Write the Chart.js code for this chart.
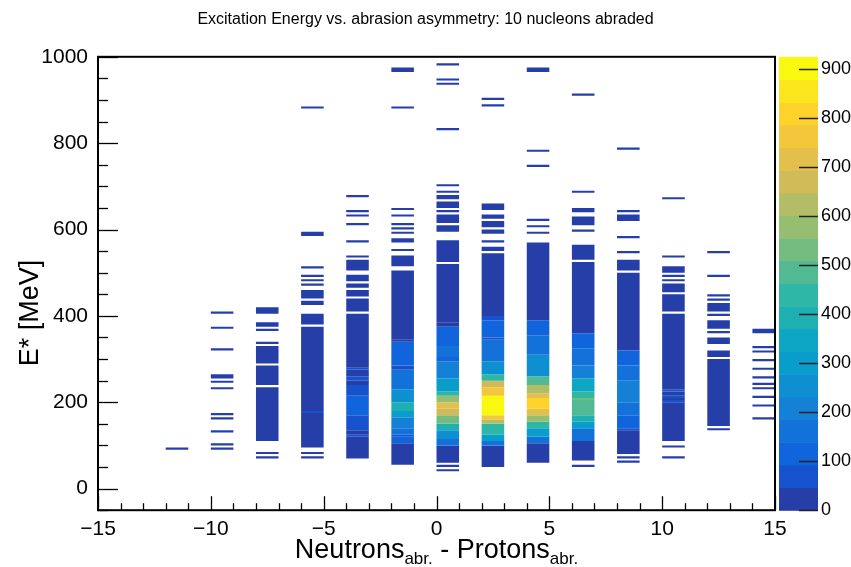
<!DOCTYPE html>
<html>
<head>
<meta charset="utf-8">
<script src="https://cdn.jsdelivr.net/npm/chart.js@4.4.1/dist/chart.umd.min.js"></script>
<style>
  body { margin: 0; background: #fff; }
</style>
</head>
<body>
<canvas id="chart" width="851" height="567"></canvas>
<script>
// x bin centres: neutrons abraded - protons abraded
const asymmetry = [-11.5, -9.5, -7.5, -5.5, -3.5, -1.5, 0.5, 2.5, 4.5, 6.5, 8.5, 10.5, 12.5, 14.5];

// filled E* bins per column: [E low, E high, counts]
const colM11 = [[90, 95, 1]];
const colM9 = [[90, 95, 1], [100, 105, 2], [130, 135, 1], [160, 165, 1], [170, 175, 1], [230, 235, 1],
  [245, 250, 1], [255, 265, 2], [320, 325, 1], [370, 375, 1], [405, 410, 1]];
const colM7 = [[70, 75, 1], [80, 85, 2], [110, 235, 8], [240, 285, 6], [290, 330, 5], [335, 340, 1],
  [365, 370, 2], [375, 385, 3], [405, 420, 3]];
const colM5 = [[70, 75, 1], [80, 85, 1], [95, 175, 20], [175, 180, 55], [180, 375, 20], [380, 405, 10],
  [425, 435, 4], [440, 460, 5], [470, 475, 2], [480, 485, 1], [490, 495, 1], [510, 515, 1], [585, 595, 3],
  [880, 885, 1]];
const colM3 = [[70, 120, 25], [120, 125, 60], [125, 135, 25], [135, 145, 60], [145, 170, 70], [170, 215, 100],
  [215, 240, 70], [240, 250, 30], [250, 260, 60], [260, 275, 30], [275, 280, 60], [280, 405, 25], [410, 440, 12],
  [445, 460, 6], [465, 475, 4], [480, 495, 4], [505, 530, 3], [535, 540, 1], [570, 575, 1], [610, 615, 1],
  [630, 635, 1], [640, 645, 2], [675, 680, 1]];
const colM1 = [[55, 105, 25], [105, 120, 110], [120, 125, 60], [125, 140, 150], [140, 165, 200], [165, 180, 300],
  [180, 200, 370], [200, 230, 260], [230, 275, 160], [275, 285, 70], [285, 340, 110], [340, 345, 40],
  [345, 505, 25], [515, 540, 6], [550, 555, 1], [570, 580, 3], [590, 595, 1], [600, 605, 1], [610, 615, 1],
  [630, 635, 1], [645, 650, 1], [880, 885, 1], [965, 975, 2]];
const colP0 = [[40, 45, 1], [50, 55, 1], [60, 100, 30], [100, 115, 150], [115, 135, 250], [135, 150, 380],
  [150, 170, 520], [170, 185, 660], [185, 200, 700], [200, 215, 570], [215, 225, 430], [225, 255, 290],
  [255, 295, 200], [295, 305, 110], [305, 330, 150], [330, 375, 110], [375, 385, 40], [385, 520, 30],
  [525, 575, 12], [595, 610, 5], [615, 635, 6], [640, 645, 1], [650, 665, 4], [670, 680, 3], [685, 690, 1],
  [700, 705, 1], [830, 835, 1], [935, 940, 1], [945, 950, 1], [980, 985, 1]];
const colP2 = [[50, 100, 30], [100, 110, 150], [110, 125, 290], [125, 150, 430], [150, 160, 620], [160, 170, 760],
  [170, 215, 910], [215, 235, 760], [235, 250, 660], [250, 265, 430], [265, 295, 250], [295, 345, 160],
  [345, 350, 60], [350, 390, 110], [390, 400, 60], [400, 545, 30], [550, 560, 8], [570, 575, 2], [590, 600, 5],
  [605, 620, 6], [625, 635, 4], [645, 660, 5], [885, 890, 1], [900, 905, 1]];
const colP4 = [[60, 105, 30], [105, 120, 150], [120, 140, 290], [140, 155, 430], [155, 170, 570], [170, 185, 710],
  [185, 210, 800], [210, 220, 710], [220, 240, 620], [240, 260, 480], [260, 310, 240], [310, 355, 160],
  [355, 390, 110], [390, 570, 30], [590, 595, 1], [605, 610, 1], [620, 625, 1], [745, 750, 1], [780, 785, 1],
  [965, 975, 3]];
const colP6 = [[50, 55, 1], [65, 110, 30], [110, 140, 150], [140, 155, 290], [155, 170, 380], [170, 205, 480],
  [205, 210, 530], [210, 225, 430], [225, 255, 330], [255, 285, 220], [285, 325, 150], [325, 360, 110],
  [360, 525, 30], [530, 565, 10], [595, 600, 1], [610, 630, 5], [640, 650, 3], [685, 690, 1], [910, 915, 1]];
const colP8 = [[60, 65, 1], [70, 75, 1], [80, 135, 30], [135, 140, 60], [140, 170, 110], [170, 200, 150],
  [200, 250, 190], [250, 285, 150], [285, 320, 110], [320, 500, 30], [505, 530, 8], [545, 550, 1],
  [580, 585, 1], [620, 635, 4], [640, 645, 1], [785, 790, 1]];
const colP10 = [[70, 75, 1], [95, 100, 1], [110, 200, 25], [200, 205, 60], [205, 210, 25], [210, 215, 60],
  [215, 225, 25], [225, 230, 60], [230, 405, 25], [410, 450, 12], [455, 475, 8], [480, 485, 1], [490, 495, 1],
  [500, 515, 4], [535, 540, 1], [670, 675, 1]];
const colP12 = [[135, 140, 1], [145, 300, 15], [305, 320, 5], [335, 350, 4], [360, 365, 1], [370, 390, 5],
  [400, 405, 1], [410, 430, 4], [435, 440, 1], [445, 450, 1], [490, 495, 1], [545, 550, 1]];
const colP14 = [[160, 165, 1], [190, 195, 1], [210, 215, 1], [230, 235, 1], [240, 245, 1], [255, 260, 1],
  [275, 280, 1], [295, 300, 1], [315, 320, 1], [325, 330, 1], [360, 370, 2]];

const columns = [colM11, colM9, colM7, colM5, colM3, colM1, colP0, colP2, colP4, colP6, colP8, colP10, colP12, colP14];

const xTicksMajor = 5;
const yTicksMajor = 200;
const zMax = 925;
const nBands = 20;

// ROOT kBird palette
const birdStops = [0.0, 0.125, 0.25, 0.375, 0.5, 0.625, 0.75, 0.875, 1.0];
const birdR = [0.2082, 0.0592, 0.0780, 0.0232, 0.1802, 0.5301, 0.8186, 0.9956, 0.9764];
const birdG = [0.1664, 0.3599, 0.5041, 0.6419, 0.7178, 0.7492, 0.7328, 0.7862, 0.9832];
const birdB = [0.5293, 0.8684, 0.8385, 0.7914, 0.6425, 0.4662, 0.3499, 0.1968, 0.0539];

function paletteColor(idx) {
  for (let g = 1; g < birdStops.length; g++) {
    const a = Math.floor(255 * birdStops[g - 1]), b = Math.floor(255 * birdStops[g]);
    if (idx < b || g === birdStops.length - 1) {
      const t = (idx - a) / (b - a);
      const r = birdR[g - 1] + t * (birdR[g] - birdR[g - 1]);
      const gg = birdG[g - 1] + t * (birdG[g] - birdG[g - 1]);
      const bb = birdB[g - 1] + t * (birdB[g] - birdB[g - 1]);
      return 'rgb(' + Math.round(r * 255) + ',' + Math.round(gg * 255) + ',' + Math.round(bb * 255) + ')';
    }
  }
}

const bandColors = [];
for (let k = 0; k < nBands; k++) {
  bandColors.push(paletteColor(Math.floor((k + 0.99) * 255 / nBands)));
}

function countColor(c) {
  let band = Math.floor(0.01 + c * nBands / zMax);
  if (band > nBands - 1) band = nBands - 1;
  return bandColors[band];
}

const points = [];
asymmetry.forEach(function (x, i) {
  columns[i].forEach(function (s) {
    points.push({ x: x, y: [s[0], s[1]], c: s[2] });
  });
});

const fontFamily = '"Liberation Sans", Arial, Helvetica, sans-serif';

function minusLabel(v) {
  return v < 0 ? '\u2212' + Math.abs(v) : String(v);
}

// frame, inward ticks, palette and axis titles drawn the ROOT way
const rootStyle = {
  id: 'rootStyle',
  afterDraw(chart) {
    const ctx = chart.ctx;
    const a = chart.chartArea;
    const xs = chart.scales.x, ys = chart.scales.y, zs = chart.scales.z;
    ctx.save();

    // palette
    const px0 = a.right + 4, pw = 39;
    for (let k = 0; k < nBands; k++) {
      const yTop = zs.getPixelForValue((k + 1) * zMax / nBands);
      const yBot = zs.getPixelForValue(k * zMax / nBands);
      ctx.fillStyle = bandColors[k];
      ctx.fillRect(px0, yTop, pw, yBot - yTop + 0.6);
    }
    ctx.strokeStyle = '#222';
    ctx.lineWidth = 1.5;
    zs.ticks.forEach(function (t) {
      const y = Math.round(zs.getPixelForValue(t.value)) + 0.5;
      ctx.beginPath();
      ctx.moveTo(px0 + pw - 19, y);
      ctx.lineTo(px0 + pw, y);
      ctx.stroke();
    });

    // ticks
    ctx.strokeStyle = '#000';
    ctx.lineWidth = 1.3;
    for (let v = xs.min; v <= xs.max; v += 1) {
      const x = Math.round(xs.getPixelForValue(v)) + 0.5;
      const len = v % xTicksMajor === 0 ? 14 : 7;
      ctx.beginPath();
      ctx.moveTo(x, a.bottom);
      ctx.lineTo(x, a.bottom - len);
      ctx.stroke();
    }
    for (let v = ys.min; v <= ys.max; v += 50) {
      const y = Math.round(ys.getPixelForValue(v)) + 0.5;
      const len = v % yTicksMajor === 0 ? 20 : 10;
      ctx.beginPath();
      ctx.moveTo(a.left, y);
      ctx.lineTo(a.left + len, y);
      ctx.stroke();
    }

    // frame
    ctx.lineWidth = 2;
    ctx.strokeRect(a.left, a.top, a.right - a.left, a.bottom - a.top);

    // y title
    ctx.fillStyle = '#000';
    ctx.font = '27px ' + fontFamily;
    ctx.textAlign = 'center';
    ctx.textBaseline = 'middle';
    ctx.translate(31, 313);
    ctx.rotate(-Math.PI / 2);
    ctx.fillText('E* [MeV]', 0, 0);
    ctx.setTransform(1, 0, 0, 1, 0, 0);

    // x title with subscripts
    const parts = [['Neutrons', 0], ['abr.', 1], [' - Protons', 0], ['abr.', 1]];
    const mainFont = '27px ' + fontFamily, subFont = '17px ' + fontFamily;
    let total = 0;
    parts.forEach(function (p) {
      ctx.font = p[1] ? subFont : mainFont;
      total += ctx.measureText(p[0]).width;
    });
    let x = (a.left + a.right) / 2 - total / 2;
    ctx.textAlign = 'left';
    ctx.textBaseline = 'alphabetic';
    parts.forEach(function (p) {
      ctx.font = p[1] ? subFont : mainFont;
      ctx.fillText(p[0], x, p[1] ? 564 : 558);
      x += ctx.measureText(p[0]).width;
    });

    ctx.restore();
  }
};

new Chart(document.getElementById('chart'), {
  type: 'bar',
  data: {
    datasets: [{
      data: points,
      backgroundColor: function (ctx) { return countColor(ctx.raw ? ctx.raw.c : 0); },
      borderWidth: 0,
      barPercentage: 0.5,
      categoryPercentage: 1.0
    }]
  },
  options: {
    responsive: false,
    devicePixelRatio: 1,
    animation: false,
    layout: { padding: 0 },
    plugins: {
      legend: { display: false },
      tooltip: { enabled: false },
      title: {
        display: true,
        text: 'Excitation Energy vs. abrasion asymmetry: 10 nucleons abraded',
        color: '#000',
        font: { family: fontFamily, size: 16, weight: 'normal' },
        padding: { top: 8, bottom: 27.8 }
      }
    },
    scales: {
      x: {
        type: 'linear',
        offset: false,
        min: -15,
        max: 15,
        grid: { display: false, drawTicks: false },
        border: { display: false },
        ticks: {
          stepSize: xTicksMajor,
          maxRotation: 0,
          padding: 6,
          color: '#000',
          font: { family: fontFamily, size: 21 },
          callback: minusLabel
        },
        afterFit: function (s) { s.height = 54; }
      },
      y: {
        type: 'linear',
        min: -50,
        max: 1000,
        grid: { display: false, drawTicks: false },
        border: { display: false },
        ticks: {
          stepSize: yTicksMajor,
          includeBounds: false,
          padding: 10,
          color: '#000',
          font: { family: fontFamily, size: 21 },
          callback: function (v) { return String(v); }
        },
        afterFit: function (s) { s.width = 98; }
      },
      z: {
        type: 'linear',
        position: 'right',
        display: true,
        min: 0,
        max: zMax,
        grid: { display: false, drawTicks: false },
        border: { display: false },
        ticks: {
          stepSize: 100,
          includeBounds: false,
          padding: 46,
          color: '#000',
          font: { family: fontFamily, size: 18 },
          callback: function (v) { return String(v); }
        },
        afterFit: function (s) { s.width = 76; }
      }
    }
  },
  plugins: [rootStyle]
});
</script>
</body>
</html>
